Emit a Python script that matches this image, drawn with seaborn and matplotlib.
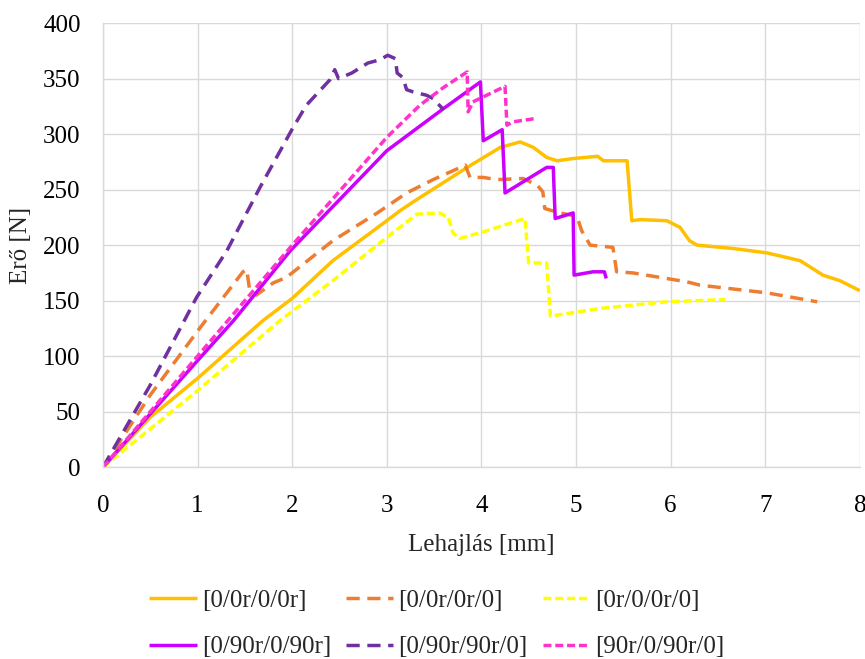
import matplotlib
matplotlib.use("Agg")
import matplotlib.pyplot as plt
import seaborn as sns
import pandas as pd

# ---- data ----
labels = ["[0/0r/0/0r]", "[0/0r/0r/0]", "[0r/0/0r/0]",
          "[0/90r/0/90r]", "[0/90r/90r/0]", "[90r/0/90r/0]"]

x_a = [0, 0.5, 1.0, 1.69, 2.0, 2.43, 3.0, 3.14, 3.28, 3.85, 4.2, 4.41, 4.55, 4.69, 4.8, 4.97,
       5.23, 5.29, 5.54, 5.59, 5.68, 5.96, 6.1, 6.2, 6.28, 6.66, 7.02, 7.37, 7.61, 7.79, 8.0]
y_a = [0, 45, 80, 132, 152, 186, 222, 231, 239, 270, 288, 293, 288, 279, 276, 278,
       280, 276, 276, 222, 223, 222, 216, 204, 200, 197, 193, 186, 173, 168, 159]

x_b = [0, 0.5, 1.03, 1.48, 1.52, 1.55, 1.62, 1.8, 1.94, 2.43, 2.9, 3.21, 3.49, 3.83, 3.88, 4.02,
       4.16, 4.44, 4.59, 4.65, 4.67, 4.83, 5.01, 5.06, 5.15, 5.39, 5.43, 5.6, 6.17, 6.31, 7.02, 7.55]
y_b = [0, 65, 126, 176, 178, 160, 155, 166, 171, 204, 229, 247, 259, 272, 261, 261,
       259, 260, 254, 248, 233, 229, 226, 213, 200, 198, 176, 175, 167, 164, 157, 149]

x_c = [0, 1.0, 1.87, 2.43, 3.0, 3.32, 3.56, 3.65, 3.7, 3.77, 4.02, 4.46, 4.5, 4.69, 4.73,
       5.25, 5.96, 6.58]
y_c = [0, 69, 132, 168, 207, 228, 229, 225, 211, 206, 212, 224, 184, 184, 136,
       143, 149, 151]

x_d = [0, 1.0, 1.38, 1.98, 3.0, 3.6, 3.99, 4.02, 4.22, 4.25, 4.69, 4.76, 4.78, 4.97, 4.98,
       5.18, 5.3, 5.32]
y_d = [0, 96, 132, 195, 285, 323, 347, 294, 304, 247, 270, 270, 224, 229, 173,
       176, 176, 170]

x_e = [0, 0.5, 0.99, 1.31, 1.66, 2.01, 2.15, 2.4, 2.45, 2.49, 2.63, 2.8, 2.93, 3.01, 3.09,
       3.11, 3.17, 3.21, 3.28, 3.42, 3.49, 3.6]
y_e = [0, 74, 153, 195, 252, 306, 326, 349, 358, 350, 355, 364, 367, 371, 368,
       355, 351, 340, 338, 335, 332, 322]

x_f = [0, 1.0, 1.98, 3.0, 3.35, 3.6, 3.85, 3.86, 3.91, 4.25, 4.27, 4.33, 4.57]
y_f = [0, 100, 198, 297, 326, 342, 356, 320, 329, 343, 308, 311, 314]

colors = ["#FFC000", "#ED7D31", "#FFFF00", "#CC00FF", "#7030A0", "#FF33CC"]
dashes = [None, (3.8, 2.2), (2.3, 1.1), None, (3.8, 2.2), (2.3, 1.1)]

xs = [x_a, x_b, x_c, x_d, x_e, x_f]
ys = [y_a, y_b, y_c, y_d, y_e, y_f]

sns.set_theme(style="whitegrid")
plt.rcParams["font.family"] = ["Liberation Serif", "DejaVu Serif"]

FS = 18
fig = plt.figure(figsize=(8.65, 6.59), dpi=100)
ax = fig.add_axes([0.119, 0.291, 0.875, 0.674])

handles = []
for lab, x, y, c, d in zip(labels, xs, ys, colors, dashes):
    df = pd.DataFrame({"x": x, "y": y})
    sns.lineplot(data=df, x="x", y="y", ax=ax, color=c, sort=False,
                 linewidth=2.5, estimator=None, label=lab)
    ln = ax.lines[-1]
    if d is not None:
        ln.set_dashes(d)
    ln.set_solid_capstyle("butt")
    ln.set_dash_capstyle("butt")
    handles.append(ln)

ax.set_xlim(0, 8)
ax.set_ylim(0, 400)
ax.set_xticks(range(0, 9))
ax.set_yticks(range(0, 401, 50))
ax.grid(True, color="#D9D9D9", linewidth=1.0)
for s in ["top", "right"]:
    ax.spines[s].set_visible(False)
for s in ["left", "bottom"]:
    ax.spines[s].set_color("#D9D9D9")
    ax.spines[s].set_linewidth(1.0)
ax.tick_params(axis="both", length=0, labelsize=FS, colors="black")
ax.tick_params(axis="x", pad=20)
ax.tick_params(axis="y", pad=16)
ax.set_xlabel("Lehajlás [mm]", fontsize=FS, labelpad=12)
ax.set_ylabel("Erő [N]", fontsize=FS, labelpad=8)

ax.get_legend().remove()
order = [0, 3, 1, 4, 2, 5]
fig.legend(handles=[handles[i] for i in order], labels=[labels[i] for i in order],
           loc="center", bbox_to_anchor=(0.505, 0.053),
           ncol=3, frameon=False, fontsize=FS, handlelength=1.9, handletextpad=0.2,
           columnspacing=0.6, labelspacing=0.95)

fig.savefig("out.png", dpi=100, facecolor="white")
